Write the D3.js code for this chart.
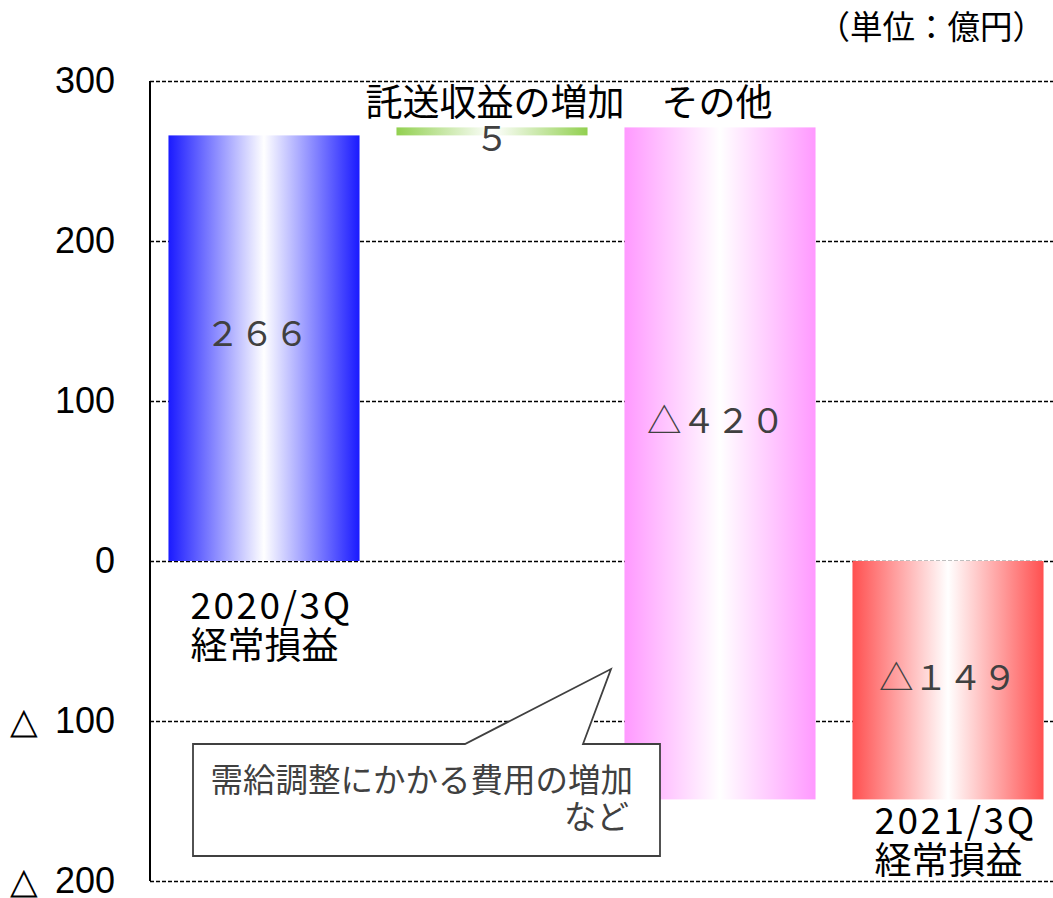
<!DOCTYPE html>
<html><head><meta charset="utf-8">
<script src="https://cdn.jsdelivr.net/npm/d3@7"></script>
<style>
html,body{margin:0;padding:0;background:#fff;}
svg{display:block;}
</style></head>
<body>
<svg id="c" width="1053" height="898"></svg>
<script>
// ---- data ----
const categories = ["2020/3Q\n経常損益", "託送収益の増加", "その他", "2021/3Q\n経常損益"];
const values = [266, 5, -420, -149];
const isTotal = [true, false, false, true];
const valueLabels = ["２６６", "５", "△４２０", "△１４９"];
const yTicks = [300, 200, 100, 0, -100, -200];
const unitLabel = "（単位：億円）";
const calloutLines = ["需給調整にかかる費用の増加", "など"];
const barColors = ["#1a1aff", "#92d050", "#ff99ff", "#ff5050"];

// ---- build waterfall segments ----
let run = 0;
const segs = values.map((v, i) => {
  let y0, y1;
  if (isTotal[i]) { y0 = 0; y1 = v; run = v; }
  else { y0 = run; y1 = run + v; run = y1; }
  return {cat: categories[i], i, v, lo: Math.min(y0, y1), hi: Math.max(y0, y1)};
});

const svg = d3.select("#c");
const W = 1053, H = 898;
const x = d3.scaleBand().domain(categories).range([150, 1062]).paddingInner(0.162).paddingOuter(0.081);
const y = d3.scaleLinear().domain([-200, 300]).range([881, 81]);

// gradients
const defs = svg.append("defs");
barColors.forEach((c, i) => {
  const g = defs.append("linearGradient").attr("id", "g" + i).attr("x1", "0%").attr("x2", "100%").attr("y1", "0%").attr("y2", "0%");
  g.append("stop").attr("offset", "0%").attr("stop-color", c);
  g.append("stop").attr("offset", "50%").attr("stop-color", "#ffffff");
  g.append("stop").attr("offset", "100%").attr("stop-color", c);
});

// gridlines
const grid = svg.append("g").attr("transform", "translate(150,0)")
  .call(d3.axisLeft(y).tickValues(yTicks).tickSize(-(W - 150)).tickFormat(""));
grid.select(".domain").remove();
grid.selectAll(".tick line").attr("stroke", "#000").attr("stroke-width", 1.3).attr("stroke-dasharray", "4,2");

// y axis labels
const ax = svg.append("g").attr("transform", "translate(150,0)")
  .call(d3.axisLeft(y).tickValues(yTicks).tickSize(0).tickPadding(35)
    .tickFormat(d => d < 0 ? "△\u00a0\u2009" + Math.abs(d) : String(d)));
ax.select(".domain").remove();
ax.selectAll(".tick text").attr("font-family", "'Liberation Sans', Arial, sans-serif").attr("font-size", 36).attr("fill", "#000");

// bars
svg.append("g").selectAll("rect").data(segs).join("rect")
  .attr("x", d => x(d.cat))
  .attr("width", x.bandwidth())
  .attr("y", d => y(d.hi))
  .attr("height", d => y(d.lo) - y(d.hi))
  .attr("fill", d => `url(#g${d.i})`);

// axis line
svg.append("line").attr("x1", 150).attr("x2", 150).attr("y1", y(300)).attr("y2", y(-200))
  .attr("stroke", "#000").attr("stroke-width", 2);

// value labels
const cjk = "'Noto Sans CJK JP', 'Noto Sans', sans-serif";
const labelOffset = [-17, 5, -45, -5];
svg.append("g").selectAll("text").data(segs).join("text")
  .attr("x", d => x(d.cat) + x.bandwidth() / 2 + (d.i === 0 ? -7 : d.i === 2 ? -4 : 0))
  .attr("y", d => (y(d.hi) + y(d.lo)) / 2 + labelOffset[d.i])
  .attr("text-anchor", "middle").attr("dominant-baseline", "central")
  .attr("font-family", cjk).attr("font-size", 34.5).attr("fill", "#404040")
  .text(d => valueLabels[d.i]);

// category labels
segs.forEach(d => {
  const lines = d.cat.split("\n");
  if (isTotal[d.i]) {
    const top = d.v >= 0 ? y(0) + 42 : y(d.lo) + 19;
    lines.forEach((t, k) => {
      svg.append("text").attr("x", x(d.cat) + 22).attr("y", top + k * 40)
        .attr("dominant-baseline", "central")
        .attr("letter-spacing", k === 0 ? 2.5 : 0)
        .attr("font-family", cjk).attr("font-size", 37).attr("fill", "#000").text(t);
    });
  } else {
    svg.append("text").attr("x", x(d.cat) + x.bandwidth() / 2 + (d.i === 1 ? 3 : -3)).attr("y", y(300) + 19)
      .attr("text-anchor", "middle").attr("dominant-baseline", "central")
      .attr("font-family", cjk).attr("font-size", 37).attr("fill", "#000").text(lines[0]);
  }
});

// unit label
svg.append("text").attr("x", 1045).attr("y", 24).attr("text-anchor", "end").attr("dominant-baseline", "central")
  .attr("font-family", cjk).attr("font-size", 32.5).attr("fill", "#000").text(unitLabel);

// callout
const bx0 = 193, bx1 = 660, by0 = 744, by1 = 856;
const p = d3.path();
p.moveTo(bx0, by0); p.lineTo(465, by0); p.lineTo(611, 669); p.lineTo(583, by0);
p.lineTo(bx1, by0); p.lineTo(bx1, by1); p.lineTo(bx0, by1); p.closePath();
svg.append("path").attr("d", p.toString()).attr("fill", "#fff").attr("stroke", "#404040").attr("stroke-width", 1.8);
svg.append("text").attr("x", 633).attr("y", 777).attr("text-anchor", "end").attr("dominant-baseline", "central")
  .attr("font-family", cjk).attr("font-size", 32.5).attr("fill", "#404040").text(calloutLines[0]);
svg.append("text").attr("x", 629).attr("y", 814).attr("text-anchor", "end").attr("dominant-baseline", "central")
  .attr("font-family", cjk).attr("font-size", 32.5).attr("fill", "#404040").text(calloutLines[1]);
</script>
</body></html>
